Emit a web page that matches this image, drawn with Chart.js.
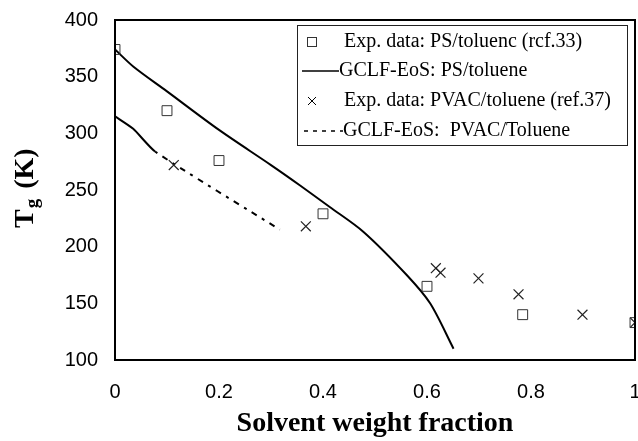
<!DOCTYPE html>
<html>
<head>
<meta charset="utf-8">
<script src="https://cdn.jsdelivr.net/npm/chart.js@4"></script>
<style>
  html, body { margin: 0; padding: 0; background: #fff; }
  #wrap { width: 638px; height: 441px; }
</style>
</head>
<body>
<div id="wrap"><canvas id="tgChart" width="638" height="441"></canvas></div>
<script>
// experimental data, PS/toluene (ref.33)
const psExpX = [0, 0.1, 0.2, 0.4, 0.6, 0.784, 1];
const psExpY = [374, 320, 276, 229, 165, 140, 133];

// experimental data, PVAC/toluene (ref.37)
const pvacExpX = [0.113, 0.367, 0.617, 0.626, 0.699, 0.776, 0.899, 1];
const pvacExpY = [272, 218, 181, 177, 172, 158, 140, 133];

// GCLF-EoS model curves
const psModelX = [0, 0.035, 0.1, 0.2, 0.3, 0.356, 0.413, 0.478, 0.561, 0.606, 0.651];
const psModelY = [374, 359, 337, 303, 272, 254, 235, 213, 175, 150, 110];
const pvacModelX = [0, 0.035, 0.077, 0.317];
const pvacModelY = [315, 304, 284, 215];

const xTicks = [0, 0.2, 0.4, 0.6, 0.8, 1];
const yTicks = [100, 150, 200, 250, 300, 350, 400];

const legendLabels = [
    'Exp. data: PS/toluenc (rcf.33)',
    'GCLF-EoS: PS/toluene',
    'Exp. data: PVAC/toluene (ref.37)',
    'GCLF-EoS:  PVAC/Toluene'
];

function pts(xs, ys) {
    return xs.map((x, i) => ({ x: x, y: ys[i] }));
}

// full box round the plot, the y title with its subscript, and the legend box
const framePlugin = {
    id: 'frame',
    afterDraw(chart) {
        const ctx = chart.ctx;
        const a = chart.chartArea;
        ctx.save();
        ctx.strokeStyle = '#000';
        ctx.lineWidth = 2;
        ctx.strokeRect(a.left, a.top, a.right - a.left, a.bottom - a.top);

        // y axis title: T_g (K), read bottom to top
        ctx.translate(33, 228);
        ctx.rotate(-Math.PI / 2);
        ctx.fillStyle = '#000';
        ctx.textAlign = 'left';
        ctx.textBaseline = 'alphabetic';
        ctx.font = 'bold 28px "Liberation Serif"';
        const wT = ctx.measureText('T').width;
        ctx.fillText('T', 0, 0);
        ctx.font = 'bold 19px "Liberation Serif"';
        const wg = ctx.measureText('g').width;
        ctx.fillText('g', wT + 1, 5);
        ctx.font = 'bold 28px "Liberation Serif"';
        ctx.fillText(' (K)', wT + wg + 4, 0);
        ctx.restore();

        // legend
        ctx.save();
        const lx = 297, ly = 25, lw = 330, lh = 120;
        ctx.fillStyle = '#fff';
        ctx.fillRect(lx, ly, lw, lh);
        ctx.strokeStyle = '#222';
        ctx.lineWidth = 1;
        ctx.strokeRect(lx + 0.5, ly + 0.5, lw, lh);
        const rows = [42, 71, 101, 131];
        ctx.font = '20px "Liberation Serif"';
        ctx.fillStyle = '#000';
        ctx.textBaseline = 'middle';
        const mx = 312;
        // row 1: square
        ctx.strokeStyle = '#333';
        ctx.strokeRect(mx - 4.5, rows[0] - 4.5, 9, 9);
        ctx.fillText(legendLabels[0], 344, rows[0]);
        // row 2: solid line
        ctx.strokeStyle = '#000';
        ctx.lineWidth = 1.5;
        ctx.beginPath();
        ctx.moveTo(302, rows[1]);
        ctx.lineTo(339, rows[1]);
        ctx.stroke();
        ctx.fillText(legendLabels[1], 339, rows[1]);
        // row 3: cross
        ctx.lineWidth = 1;
        ctx.beginPath();
        ctx.moveTo(mx - 4, rows[2] - 4);
        ctx.lineTo(mx + 4, rows[2] + 4);
        ctx.moveTo(mx + 4, rows[2] - 4);
        ctx.lineTo(mx - 4, rows[2] + 4);
        ctx.stroke();
        ctx.fillText(legendLabels[2], 344, rows[2]);
        // row 4: dash-dot line
        ctx.lineWidth = 1.5;
        ctx.setLineDash([4, 5]);
        ctx.beginPath();
        ctx.moveTo(304, rows[3]);
        ctx.lineTo(343, rows[3]);
        ctx.stroke();
        ctx.setLineDash([]);
        ctx.fillText(legendLabels[3], 343, rows[3]);
        ctx.restore();
    }
};

const ctx = document.getElementById('tgChart').getContext('2d');
new Chart(ctx, {
    type: 'scatter',
    data: {
        datasets: [
            {
                label: legendLabels[0],
                data: pts(psExpX, psExpY),
                pointStyle: 'rect',
                pointRadius: 7,
                pointBorderWidth: 1,
                borderColor: '#333',
                backgroundColor: 'rgba(255,255,255,0)',
                showLine: false
            },
            {
                label: legendLabels[1],
                data: pts(psModelX, psModelY),
                showLine: true,
                pointRadius: 0,
                borderColor: '#000',
                borderWidth: 2,
                tension: 0.3
            },
            {
                label: legendLabels[2],
                data: pts(pvacExpX, pvacExpY),
                pointStyle: 'crossRot',
                pointRadius: 7,
                pointBorderWidth: 1.2,
                borderColor: '#222',
                showLine: false
            },
            {
                label: legendLabels[3],
                data: pts(pvacModelX, pvacModelY),
                showLine: true,
                pointRadius: 0,
                borderColor: '#000',
                borderWidth: 2,
                tension: 0.2,
                segment: {
                    borderDash: c => c.p0DataIndex >= 2 ? [3, 6, 6, 6] : undefined
                }
            }
        ]
    },
    options: {
        responsive: false,
        animation: false,
        layout: { autoPadding: false, padding: { top: 20, right: 3, left: 0, bottom: 0 } },
        plugins: {
            legend: { display: false },
            tooltip: { enabled: false }
        },
        scales: {
            x: {
                type: 'linear',
                min: 0,
                max: 1,
                afterBuildTicks: s => { s.ticks = xTicks.map(v => ({ value: v })); },
                afterFit: s => { s.height = 81; s.paddingLeft = 0; s.paddingRight = 0; },
                grid: { display: false, drawTicks: false },
                border: { display: false },
                ticks: {
                    color: '#000',
                    padding: 20,
                    maxRotation: 0,
                    font: { family: '"Liberation Sans"', size: 20 },
                    callback: v => String(v)
                },
                title: {
                    display: true,
                    text: 'Solvent weight fraction',
                    color: '#000',
                    font: { family: '"Liberation Serif"', size: 28, weight: 'bold' },
                    padding: { top: 0, bottom: 0 }
                }
            },
            y: {
                min: 100,
                max: 400,
                afterBuildTicks: s => { s.ticks = yTicks.map(v => ({ value: v })); },
                afterFit: s => { s.width = 115; s.paddingTop = 0; s.paddingBottom = 0; },
                grid: { display: false, drawTicks: false },
                border: { display: false },
                ticks: {
                    color: '#000',
                    padding: 17,
                    font: { family: '"Liberation Sans"', size: 20 }
                }
            }
        }
    },
    plugins: [framePlugin]
});
</script>
</body>
</html>
